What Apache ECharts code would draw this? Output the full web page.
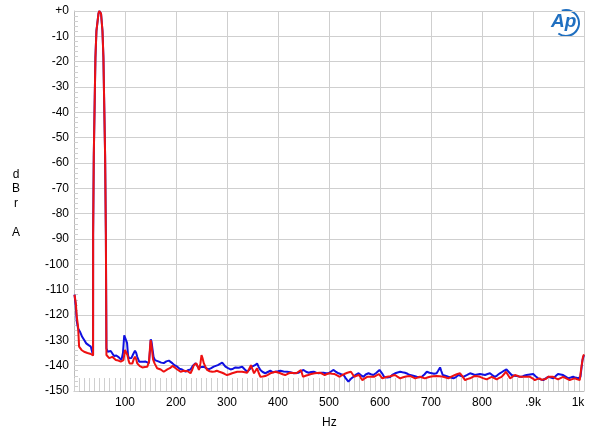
<!DOCTYPE html>
<html>
<head>
<meta charset="utf-8">
<script src="https://cdn.jsdelivr.net/npm/echarts@6/dist/echarts.min.js"></script>
<style>html,body{margin:0;padding:0;background:#fff;}#c{width:600px;height:437px;}</style>
</head>
<body>
<div id="c"></div>
<script>
// ---- data (Hz, dBr A) ----
const xTicks = [0,100,200,300,400,500,600,700,800,900,1000];
const xTickLabels = ['', '100','200','300','400','500','600','700','800','.9k','1k'];
const yTicks = [0,-10,-20,-30,-40,-50,-60,-70,-80,-90,-100,-110,-120,-130,-140,-150];

const peak = [[37.4,-136],[37.5,-88.5],[38.7,-88.5],[38.8,-57],[40.6,-57],[40.7,-34],[41.9,-34],[42,-18.5],[43.9,-18.5],[44,-7.8],[45.9,-7.8],[48,-1],[49.5,0],[51.5,0],[53,-1],[55.8,-7.8],[57.6,-7.8],[57.7,-18.5],[58.9,-18.5],[59,-34],[60.9,-34],[61,-57],[62.4,-57],[62.5,-88.5],[63.5,-88.5]];

const blueLow = [[1,-112],[3.5,-116.6],[5.5,-122.6],[8,-125.3],[11.7,-126.6],[16,-128.6],[20,-129.9],[24,-131.2],[28.6,-131.9],[33,-132.5],[36,-133.2]];

const blueNoise = [[63.6,-133.2],[66,-134.5],[68.7,-135.1],[72,-134.2],[74,-134.5],[78.5,-136.2],[83,-136],[88,-136.7],[93,-137.8],[96,-135],[98.5,-128],[100,-127.3],[102,-128],[104,-131],[106,-136],[108,-137.1],[112.5,-137],[116,-135.5],[119.6,-134.1],[122,-135],[124,-136.5],[128,-138.5],[130.7,-139.1],[136,-138.5],[140.5,-138.4],[144,-139],[147,-139],[149,-134],[150.5,-129.6],[152,-130.5],[153.6,-133],[156,-136.5],[158.7,-137.8],[162,-137.5],[166.5,-138.4],[171,-138.8],[176,-139],[181,-138.3],[186,-138],[189,-138.5],[192.7,-139],[197,-139.8],[202.5,-140.4],[207,-141.2],[212,-141.5],[218.7,-142.4],[223,-141.8],[228.5,-141.5],[233,-140],[238.4,-139.1],[245,-141],[250,-140.5],[254.6,-140.4],[259,-141],[264,-141.5],[269,-141],[274,-140.4],[282,-139.8],[290.6,-138.8],[297,-140.4],[302,-141],[307,-141.5],[312,-141.2],[316.6,-140.7],[323,-140.8],[329.7,-140.4],[335,-141.5],[339.5,-142.4],[344,-141.5],[349,-140.4],[355,-139.8],[359,-139.1],[362,-140.5],[365.5,-141.7],[370,-142.5],[375,-143],[380,-142.5],[385,-142],[390,-142.6],[395,-142.4],[400,-142.2],[404.7,-142],[411,-142.3],[417.8,-142.4],[424,-142.6],[430.7,-143],[435,-142.9],[440.5,-142.8],[445,-142.2],[450,-141.7],[455,-142.4],[460,-142.8],[465,-142.5],[470,-142.4],[475,-142.8],[479.6,-143],[485,-142.8],[489.4,-142.8],[494,-143],[499,-143],[504,-142.3],[509,-141.7],[514,-142.5],[518.8,-143],[524,-143.4],[528.6,-143.7],[533,-145],[538,-146.3],[543,-145.2],[548,-144.4],[553,-143.5],[558,-143],[563,-143.8],[567.7,-144.4],[572,-143.5],[577.5,-143],[582,-143.4],[587,-143.7],[593,-142.8],[599,-141.7],[604,-143],[608,-144.4],[614,-144.7],[620,-144.5],[625,-143.5],[629.6,-143],[633,-143],[639.5,-142.4],[644,-142.6],[649,-142.8],[654,-143.2],[659,-143.7],[665,-144],[672,-144.4],[677,-144.6],[682,-144.4],[687,-143.5],[691.8,-142.4],[697,-142.8],[701.6,-143],[706,-143.2],[711,-143],[714,-142],[717.8,-140.7],[720,-142],[723,-143.7],[728,-144],[734,-144.4],[739,-144.7],[744,-145],[749,-144.5],[753.6,-143.7],[758,-144],[763.4,-144.4],[770,-143.7],[776.5,-143],[781,-143.3],[786,-143.7],[791,-143.5],[796,-143.3],[801,-143.5],[806,-143.7],[811,-143.3],[815.7,-143],[820,-143.7],[825.4,-144.4],[830,-143.8],[835,-143],[841,-142.3],[848,-141.5],[853,-142.6],[858,-143.7],[863,-144],[868,-144.1],[873,-144.3],[877.7,-144.4],[882,-144],[887.5,-143.7],[894,-143.5],[900.4,-143.3],[905,-144.2],[910,-145],[915,-145.4],[920,-145.7],[925,-145],[929.8,-144.4],[935,-144.7],[939.5,-145],[944,-144.2],[949,-143.3],[954,-143.5],[959,-143.7],[964,-144.3],[969,-145],[974,-144.7],[978.7,-144.4],[983,-144.7],[988.5,-145],[993,-144.4],[997,-137.8],[1000,-135.8]];

const redLow = [[1,-112],[3.5,-115.3],[5.5,-120.7],[8,-124.6],[10,-132.5],[14.7,-133.8],[19.8,-134.5],[26.4,-135],[33,-135.4],[36,-136]];

const redNoise = [[63.6,-135.8],[66,-136.5],[69,-137],[72,-136.8],[75,-136.5],[78,-137.2],[82,-137.8],[87,-138],[91.6,-138.4],[95,-138],[97,-137.8],[99,-135],[100,-133.8],[102,-134.5],[104.7,-135.8],[107,-138],[109,-139.1],[114.5,-139.1],[117,-137.5],[119.6,-136.5],[122,-137.5],[124,-139.1],[129,-140.2],[134,-140.7],[139,-140.5],[143.8,-140.4],[147,-138.5],[149,-133],[150.3,-129.9],[151.7,-131.5],[153,-134],[155,-137.5],[158,-139.1],[163,-141],[170,-141.5],[176,-142.4],[183,-141.5],[188,-141],[193,-140.1],[198,-140.8],[202.5,-141.5],[209,-142.4],[215,-142],[218.7,-141.7],[223,-142.2],[228.5,-143],[232,-141.5],[235,-139.8],[240,-139.1],[245,-141.7],[248,-139],[250,-135.8],[252,-137],[254.6,-139.1],[258,-140.5],[261,-141.7],[266,-142.2],[271,-142.4],[276,-142.3],[280,-142],[285,-142.4],[290.6,-142.8],[295,-143.2],[300,-143.7],[305,-143.4],[310,-143],[315,-142.7],[320,-142.4],[325,-142.4],[329.7,-142.4],[335,-142.6],[339.5,-142.8],[343,-141.5],[347,-139.8],[350,-141.5],[353,-143],[356,-142],[359,-141],[362,-142.8],[365.5,-144.4],[370,-144.3],[375,-144.1],[380,-143.6],[385,-143],[390,-142.7],[395,-142.4],[400,-142.7],[404.7,-143],[409,-143.4],[414,-143.7],[419,-143.2],[424,-142.8],[430,-142.9],[436,-143],[440,-142.4],[445,-141.7],[449,-144.4],[454,-144],[459,-143.7],[465,-143.3],[472,-143],[477,-142.9],[482,-142.8],[487,-143.2],[491.6,-143.7],[496,-143.3],[501,-143],[506,-143.2],[511,-143.3],[516,-143.8],[521,-144.4],[525,-143.8],[530,-143.3],[536,-142.8],[543,-142.4],[549.5,-144.4],[554,-144],[559,-143.7],[562,-144.7],[565.5,-145.7],[570,-145],[575,-144.4],[581,-144.4],[588,-144.4],[593,-143.8],[598,-143.3],[601,-144],[604.6,-145],[609,-144.7],[614,-144.4],[620,-144.2],[625,-143.9],[629.6,-143.7],[634,-144.3],[639.5,-145],[644,-144.7],[649,-144.4],[654,-144.2],[659,-144.1],[664,-144.5],[669,-145],[674,-144.7],[678.5,-144.4],[683,-144.7],[688,-145],[693,-144.7],[698,-144.4],[704,-144.2],[711,-144.1],[717,-144.2],[724,-144.4],[729,-144.7],[734,-145],[740,-144.3],[747,-143.7],[752,-143.3],[757,-143],[762,-144.3],[766.8,-145.7],[771,-145.3],[776.5,-145],[781,-144.5],[786,-144.1],[791,-144.2],[796,-144.4],[802,-144.9],[809,-145.4],[814,-144.9],[819,-144.4],[824,-144.9],[828.7,-145.4],[833,-144.9],[838.5,-144.4],[843,-143.4],[847,-142.4],[851,-143.7],[855,-145],[860,-144.3],[864.5,-143.7],[869,-144],[874,-144.4],[879,-144.4],[884,-144.4],[889,-144.4],[894,-144.4],[899,-145],[903.5,-145.7],[908,-145.3],[913,-145],[917,-145.6],[920,-146.3],[925,-145.3],[929.8,-144.4],[935,-144.4],[939.5,-144.4],[944,-144.9],[949,-145.4],[954,-144.9],[959,-144.4],[965,-145],[972,-145.7],[977,-145.3],[982,-145],[987,-145.4],[991.6,-145.7],[995,-140.4],[998,-136.5],[1000,-135.5]];

const blueData = blueLow.concat(peak, blueNoise);
const redData = redLow.concat(peak, redNoise);

const chart = echarts.init(document.getElementById('c'), null, {renderer: 'canvas'});
const FONT = '"Liberation Sans", Arial, sans-serif';
const gridColor = '#cfcfcf';
chart.setOption({
  animation: false,
  backgroundColor: '#ffffff',
  grid: {left: 74, right: 16, top: 11, bottom: 46, containLabel: false, show: false},
  xAxis: {
    type: 'value', min: 0, max: 1000, interval: 100,
    axisLine: {show: true, onZero: false, lineStyle: {color: '#bbbbbb', width: 1}},
    axisTick: {show: true, inside: true, length: 13, lineStyle: {color: gridColor}},
    minorTick: {show: true, splitNumber: 10, length: 13, lineStyle: {color: gridColor}},
    splitLine: {show: true, lineStyle: {color: gridColor, width: 1}},
    axisLabel: {color: '#000', fontFamily: FONT, fontSize: 12, margin: 6,
      formatter: function(v){
        const i = xTicks.indexOf(v);
        if (i < 0) return '';
        return v === 1000 ? '{k|' + xTickLabels[i] + '}' : xTickLabels[i];
      },
      rich: {k: {color: '#000', fontFamily: FONT, fontSize: 12, padding: [0, 12, 0, 0]}}}
  },
  yAxis: {
    type: 'value', min: -150, max: 0, interval: 10,
    axisLine: {show: true, onZero: false, lineStyle: {color: '#bbbbbb', width: 1}},
    axisTick: {show: true, inside: true, length: 5, lineStyle: {color: gridColor}},
    minorTick: {show: true, splitNumber: 5, length: 4, lineStyle: {color: gridColor}},
    splitLine: {show: true, lineStyle: {color: gridColor, width: 1}},
    axisLabel: {color: '#000', fontFamily: FONT, fontSize: 12, margin: 5,
      formatter: function(v){ return yTicks.indexOf(v) >= 0 ? (v === 0 ? '+0' : String(v)) : ''; }}
  },
  series: [
    {type: 'line', data: blueData, showSymbol: false, symbol: 'none', clip: true,
     lineStyle: {color: '#1010e0', width: 2}, z: 3},
    {type: 'line', data: redData, showSymbol: false, symbol: 'none', clip: true,
     lineStyle: {color: '#ee1111', width: 2}, z: 4}
  ],
  graphic: [
    {type: 'text', left: 12, top: 167, style: {text: 'd\nB\nr\n\nA', fill: '#000', font: '12px ' + FONT, lineHeight: 14.5, textAlign: 'center', x: 6}},
    {type: 'text', left: 322, top: 417, style: {text: 'Hz', fill: '#000', font: '12px ' + FONT}},
    {type: 'text', left: 551, top: 12, style: {text: 'Ap', fill: '#1f6fc0', font: 'italic bold 19px ' + FONT}},
    {type: 'arc', shape: {cx: 566, cy: 23, r: 13, startAngle: -1.9, endAngle: 2.2, clockwise: true},
     style: {stroke: '#1f6fc0', lineWidth: 2, fill: null}}
  ]
});
</script>
</body>
</html>
